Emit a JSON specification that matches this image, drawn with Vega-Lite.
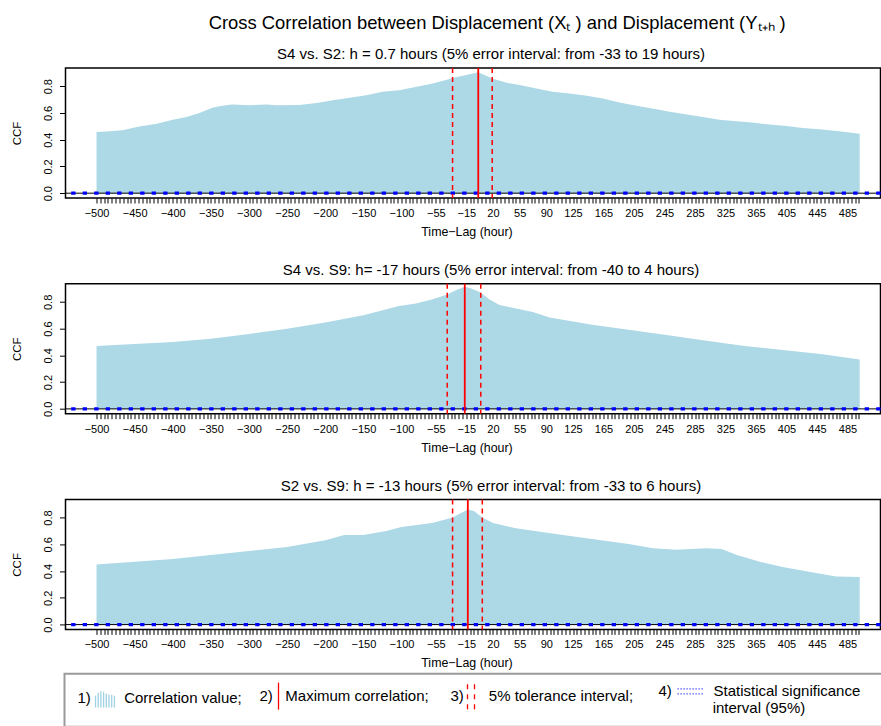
{
  "$schema": "https://vega.github.io/schema/vega-lite/v6.json",
  "autosize": {"type": "pad"},
  "padding": {"left": 10.5, "top": 13, "right": 0, "bottom": 0},
  "background": "white",
  "bounds": "flush",
  "spacing": 85.7,
  "title": {
    "text": "Cross Correlation between Displacement (Xₜ ) and Displacement (Yₜ₊ₕ )",
    "fontSize": 18.4,
    "anchor": "middle",
    "offset": -1,
    "dx": 45.5,
    "baseline": "alphabetic"
  },
  "datasets": {
    "ccf": [
      {"pair": "S4 vs. S2", "lag": -500, "ccf": 0.458},
      {"pair": "S4 vs. S2", "lag": -483, "ccf": 0.463},
      {"pair": "S4 vs. S2", "lag": -466, "ccf": 0.470},
      {"pair": "S4 vs. S2", "lag": -444, "ccf": 0.498},
      {"pair": "S4 vs. S2", "lag": -421, "ccf": 0.520},
      {"pair": "S4 vs. S2", "lag": -400, "ccf": 0.550},
      {"pair": "S4 vs. S2", "lag": -382, "ccf": 0.570},
      {"pair": "S4 vs. S2", "lag": -365, "ccf": 0.600},
      {"pair": "S4 vs. S2", "lag": -348, "ccf": 0.638},
      {"pair": "S4 vs. S2", "lag": -335, "ccf": 0.653},
      {"pair": "S4 vs. S2", "lag": -322, "ccf": 0.663},
      {"pair": "S4 vs. S2", "lag": -299, "ccf": 0.658},
      {"pair": "S4 vs. S2", "lag": -277, "ccf": 0.663},
      {"pair": "S4 vs. S2", "lag": -264, "ccf": 0.658},
      {"pair": "S4 vs. S2", "lag": -234, "ccf": 0.660},
      {"pair": "S4 vs. S2", "lag": -211, "ccf": 0.675},
      {"pair": "S4 vs. S2", "lag": -190, "ccf": 0.695},
      {"pair": "S4 vs. S2", "lag": -168, "ccf": 0.713},
      {"pair": "S4 vs. S2", "lag": -146, "ccf": 0.733},
      {"pair": "S4 vs. S2", "lag": -125, "ccf": 0.758},
      {"pair": "S4 vs. S2", "lag": -103, "ccf": 0.770},
      {"pair": "S4 vs. S2", "lag": -80, "ccf": 0.795},
      {"pair": "S4 vs. S2", "lag": -59, "ccf": 0.820},
      {"pair": "S4 vs. S2", "lag": -37, "ccf": 0.853},
      {"pair": "S4 vs. S2", "lag": -33, "ccf": 0.862},
      {"pair": "S4 vs. S2", "lag": -15, "ccf": 0.883},
      {"pair": "S4 vs. S2", "lag": 0.7, "ccf": 0.905},
      {"pair": "S4 vs. S2", "lag": 19, "ccf": 0.858},
      {"pair": "S4 vs. S2", "lag": 38, "ccf": 0.825},
      {"pair": "S4 vs. S2", "lag": 55, "ccf": 0.808},
      {"pair": "S4 vs. S2", "lag": 77, "ccf": 0.783},
      {"pair": "S4 vs. S2", "lag": 98, "ccf": 0.758},
      {"pair": "S4 vs. S2", "lag": 120, "ccf": 0.745},
      {"pair": "S4 vs. S2", "lag": 143, "ccf": 0.728},
      {"pair": "S4 vs. S2", "lag": 164, "ccf": 0.708},
      {"pair": "S4 vs. S2", "lag": 186, "ccf": 0.678},
      {"pair": "S4 vs. S2", "lag": 208, "ccf": 0.653},
      {"pair": "S4 vs. S2", "lag": 229, "ccf": 0.633},
      {"pair": "S4 vs. S2", "lag": 252, "ccf": 0.608},
      {"pair": "S4 vs. S2", "lag": 274, "ccf": 0.588},
      {"pair": "S4 vs. S2", "lag": 295, "ccf": 0.570},
      {"pair": "S4 vs. S2", "lag": 317, "ccf": 0.550},
      {"pair": "S4 vs. S2", "lag": 339, "ccf": 0.538},
      {"pair": "S4 vs. S2", "lag": 360, "ccf": 0.528},
      {"pair": "S4 vs. S2", "lag": 383, "ccf": 0.513},
      {"pair": "S4 vs. S2", "lag": 405, "ccf": 0.503},
      {"pair": "S4 vs. S2", "lag": 426, "ccf": 0.488},
      {"pair": "S4 vs. S2", "lag": 448, "ccf": 0.478},
      {"pair": "S4 vs. S2", "lag": 471, "ccf": 0.465},
      {"pair": "S4 vs. S2", "lag": 501, "ccf": 0.445},

      {"pair": "S4 vs. S9", "lag": -500, "ccf": 0.470},
      {"pair": "S4 vs. S9", "lag": -450, "ccf": 0.485},
      {"pair": "S4 vs. S9", "lag": -400, "ccf": 0.500},
      {"pair": "S4 vs. S9", "lag": -350, "ccf": 0.525},
      {"pair": "S4 vs. S9", "lag": -300, "ccf": 0.560},
      {"pair": "S4 vs. S9", "lag": -250, "ccf": 0.600},
      {"pair": "S4 vs. S9", "lag": -200, "ccf": 0.645},
      {"pair": "S4 vs. S9", "lag": -150, "ccf": 0.700},
      {"pair": "S4 vs. S9", "lag": -103, "ccf": 0.770},
      {"pair": "S4 vs. S9", "lag": -81, "ccf": 0.788},
      {"pair": "S4 vs. S9", "lag": -59, "ccf": 0.820},
      {"pair": "S4 vs. S9", "lag": -40, "ccf": 0.856},
      {"pair": "S4 vs. S9", "lag": -28, "ccf": 0.888},
      {"pair": "S4 vs. S9", "lag": -17, "ccf": 0.913},
      {"pair": "S4 vs. S9", "lag": -8.5, "ccf": 0.900},
      {"pair": "S4 vs. S9", "lag": 3.7, "ccf": 0.870},
      {"pair": "S4 vs. S9", "lag": 15.5, "ccf": 0.818},
      {"pair": "S4 vs. S9", "lag": 28.6, "ccf": 0.776},
      {"pair": "S4 vs. S9", "lag": 50.5, "ccf": 0.750},
      {"pair": "S4 vs. S9", "lag": 72.3, "ccf": 0.725},
      {"pair": "S4 vs. S9", "lag": 94.2, "ccf": 0.683},
      {"pair": "S4 vs. S9", "lag": 150, "ccf": 0.630},
      {"pair": "S4 vs. S9", "lag": 200, "ccf": 0.590},
      {"pair": "S4 vs. S9", "lag": 250, "ccf": 0.550},
      {"pair": "S4 vs. S9", "lag": 300, "ccf": 0.510},
      {"pair": "S4 vs. S9", "lag": 350, "ccf": 0.470},
      {"pair": "S4 vs. S9", "lag": 400, "ccf": 0.440},
      {"pair": "S4 vs. S9", "lag": 450, "ccf": 0.410},
      {"pair": "S4 vs. S9", "lag": 501, "ccf": 0.370},

      {"pair": "S2 vs. S9", "lag": -500, "ccf": 0.450},
      {"pair": "S2 vs. S9", "lag": -450, "ccf": 0.470},
      {"pair": "S2 vs. S9", "lag": -400, "ccf": 0.490},
      {"pair": "S2 vs. S9", "lag": -350, "ccf": 0.520},
      {"pair": "S2 vs. S9", "lag": -300, "ccf": 0.550},
      {"pair": "S2 vs. S9", "lag": -250, "ccf": 0.580},
      {"pair": "S2 vs. S9", "lag": -200, "ccf": 0.630},
      {"pair": "S2 vs. S9", "lag": -175, "ccf": 0.670},
      {"pair": "S2 vs. S9", "lag": -150, "ccf": 0.670},
      {"pair": "S2 vs. S9", "lag": -120, "ccf": 0.700},
      {"pair": "S2 vs. S9", "lag": -100, "ccf": 0.730},
      {"pair": "S2 vs. S9", "lag": -60, "ccf": 0.760},
      {"pair": "S2 vs. S9", "lag": -40, "ccf": 0.790},
      {"pair": "S2 vs. S9", "lag": -33, "ccf": 0.800},
      {"pair": "S2 vs. S9", "lag": -13, "ccf": 0.860},
      {"pair": "S2 vs. S9", "lag": -5, "ccf": 0.850},
      {"pair": "S2 vs. S9", "lag": 6, "ccf": 0.800},
      {"pair": "S2 vs. S9", "lag": 20, "ccf": 0.760},
      {"pair": "S2 vs. S9", "lag": 50, "ccf": 0.720},
      {"pair": "S2 vs. S9", "lag": 100, "ccf": 0.680},
      {"pair": "S2 vs. S9", "lag": 150, "ccf": 0.640},
      {"pair": "S2 vs. S9", "lag": 200, "ccf": 0.600},
      {"pair": "S2 vs. S9", "lag": 230, "ccf": 0.570},
      {"pair": "S2 vs. S9", "lag": 260, "ccf": 0.560},
      {"pair": "S2 vs. S9", "lag": 300, "ccf": 0.570},
      {"pair": "S2 vs. S9", "lag": 320, "ccf": 0.565},
      {"pair": "S2 vs. S9", "lag": 340, "ccf": 0.520},
      {"pair": "S2 vs. S9", "lag": 370, "ccf": 0.470},
      {"pair": "S2 vs. S9", "lag": 400, "ccf": 0.430},
      {"pair": "S2 vs. S9", "lag": 440, "ccf": 0.390},
      {"pair": "S2 vs. S9", "lag": 470, "ccf": 0.360},
      {"pair": "S2 vs. S9", "lag": 501, "ccf": 0.355}
    ],
    "lines": [
      {"pair": "S4 vs. S2", "kind": "max", "lag": 0.7},
      {"pair": "S4 vs. S2", "kind": "tol", "lag": -33},
      {"pair": "S4 vs. S2", "kind": "tol", "lag": 19},
      {"pair": "S4 vs. S9", "kind": "max", "lag": -17},
      {"pair": "S4 vs. S9", "kind": "tol", "lag": -40},
      {"pair": "S4 vs. S9", "kind": "tol", "lag": 4},
      {"pair": "S2 vs. S9", "kind": "max", "lag": -13},
      {"pair": "S2 vs. S9", "kind": "tol", "lag": -33},
      {"pair": "S2 vs. S9", "kind": "tol", "lag": 6}
    ],
    "zero": [{"ccf": 0}],
    "sig": [{"ccf": 0.005}, {"ccf": -0.005}],
    "legend": [
      {"item": "Correlation value"},
      {"item": "Maximum correlation"},
      {"item": "5% tolerance interval"},
      {"item": "Statistical significance interval (95%)"}
    ]
  },
  "config": {
    "font": "Liberation Sans",
    "view": {"stroke": "black", "strokeWidth": 1.5},
    "axis": {
      "grid": false, "domain": false, "ticks": true,
      "tickColor": "black", "tickWidth": 1,
      "labelColor": "black", "titleColor": "black",
      "titleFontWeight": "normal",
      "labelFont": "Liberation Sans", "titleFont": "Liberation Sans"
    },
    "axisX": {
      "tickSize": 5, "labelFontSize": 11, "labelPadding": 4.5,
      "titleFontSize": 12.4, "titlePadding": 7,
      "labelOverlap": false, "labelFlush": false, "labelBound": false,
      "titleX": 401
    },
    "axisY": {
      "tickSize": 6, "labelFontSize": 11, "labelAngle": -90, "labelOverlap": false,
      "labelBaseline": "alphabetic", "labelAlign": "center", "labelPadding": 7.8,
      "titleFontSize": 11.5, "titlePadding": 20
    },
    "title": {"fontWeight": "normal", "color": "black", "fontSize": 15, "baseline": "alphabetic", "offset": 7, "dx": 18},
    "legend": {"strokeWidth": 2}
  },
  "vconcat": [
    {
      "title": {"text": "S4 vs. S2: h = 0.7 hours (5% error interval: from -33 to 19 hours)", "offset": 5},
      "width": 815, "height": 130,
      "layer": [
        {
          "data": {"name": "ccf"},
          "transform": [{"filter": {"field": "pair", "equal": "S4 vs. S2"}}],
          "mark": {"type": "area", "color": "#ADD8E6"},
          "encoding": {
            "x": {"field": "lag", "type": "quantitative", "title": "Time−Lag (hour)",
              "scale": {"domain": [-540.7, 528.3], "nice": false, "zero": false},
              "axis": {
                "labelOverlap": false, "tickCount": 1000,
                "values": [-500,-495,-490,-485,-480,-475,-470,-465,-460,-455,-450,-445,-440,-435,-430,-425,-420,-415,-410,-405,-400,-395,-390,-385,-380,-375,-370,-365,-360,-355,-350,-345,-340,-335,-330,-325,-320,-315,-310,-305,-300,-295,-290,-285,-280,-275,-270,-265,-260,-255,-250,-245,-240,-235,-230,-225,-220,-215,-210,-205,-200,-195,-190,-185,-180,-175,-170,-165,-160,-155,-150,-145,-140,-135,-130,-125,-120,-115,-110,-105,-100,-95,-90,-85,-80,-75,-70,-65,-60,-55,-50,-45,-40,-35,-30,-25,-20,-15,-10,-5,0,5,10,15,20,25,30,35,40,45,50,55,60,65,70,75,80,85,90,95,100,105,110,115,120,125,130,135,140,145,150,155,160,165,170,175,180,185,190,195,200,205,210,215,220,225,230,235,240,245,250,255,260,265,270,275,280,285,290,295,300,305,310,315,320,325,330,335,340,345,350,355,360,365,370,375,380,385,390,395,400,405,410,415,420,425,430,435,440,445,450,455,460,465,470,475,480,485,490,495,500],
                "labelExpr": "(datum.value <= -100 && datum.value % 50 == 0) || datum.value == -55 || datum.value == -15 || datum.value == 20 || datum.value == 55 || datum.value == 90 || (datum.value >= 125 && (datum.value - 125) % 40 == 0) ? datum.label : ''"
              }},
            "y": {"field": "ccf", "type": "quantitative", "title": "CCF",
              "scale": {"domain": [-0.036, 0.936], "nice": false, "zero": false},
              "axis": {"values": [0, 0.2, 0.4, 0.6, 0.8], "tickCount": 10, "format": ".1f", "labelOverlap": false}}
          }
        },
        {
          "data": {"name": "zero"},
          "mark": {"type": "rule", "color": "black", "strokeWidth": 1},
          "encoding": {"y": {"field": "ccf", "type": "quantitative", "title": "CCF", "scale": {"domain": [-0.036, 0.936], "nice": false, "zero": false}}}
        },
        {
          "data": {"name": "sig"},
          "mark": {"type": "rule", "color": "#0000FF", "strokeWidth": 2, "strokeDash": [4.3, 7.2]},
          "encoding": {"y": {"field": "ccf", "type": "quantitative", "title": "CCF", "scale": {"domain": [-0.036, 0.936], "nice": false, "zero": false}}}
        },
        {
          "data": {"name": "lines"},
          "transform": [{"filter": "datum.pair == 'S4 vs. S2' && datum.kind == 'tol'"}],
          "mark": {"type": "rule", "color": "#FF0000", "strokeWidth": 1.5, "strokeDash": [5, 4]},
          "encoding": {"x": {"field": "lag", "type": "quantitative", "title": "Time−Lag (hour)", "scale": {"domain": [-540.7, 528.3], "nice": false, "zero": false}}}
        },
        {
          "data": {"name": "lines"},
          "transform": [{"filter": "datum.pair == 'S4 vs. S2' && datum.kind == 'max'"}],
          "mark": {"type": "rule", "color": "#FF0000", "strokeWidth": 1.8},
          "encoding": {"x": {"field": "lag", "type": "quantitative", "title": "Time−Lag (hour)", "scale": {"domain": [-540.7, 528.3], "nice": false, "zero": false}}}
        }
      ]
    },
    {
      "title": {"text": "S4 vs. S9: h= -17 hours (5% error interval: from -40 to 4 hours)", "offset": 5},
      "width": 815, "height": 130,
      "layer": [
        {
          "data": {"name": "ccf"},
          "transform": [{"filter": {"field": "pair", "equal": "S4 vs. S9"}}],
          "mark": {"type": "area", "color": "#ADD8E6"},
          "encoding": {
            "x": {"field": "lag", "type": "quantitative", "title": "Time−Lag (hour)",
              "scale": {"domain": [-540.7, 528.3], "nice": false, "zero": false},
              "axis": {
                "labelOverlap": false, "tickCount": 1000,
                "values": [-500,-495,-490,-485,-480,-475,-470,-465,-460,-455,-450,-445,-440,-435,-430,-425,-420,-415,-410,-405,-400,-395,-390,-385,-380,-375,-370,-365,-360,-355,-350,-345,-340,-335,-330,-325,-320,-315,-310,-305,-300,-295,-290,-285,-280,-275,-270,-265,-260,-255,-250,-245,-240,-235,-230,-225,-220,-215,-210,-205,-200,-195,-190,-185,-180,-175,-170,-165,-160,-155,-150,-145,-140,-135,-130,-125,-120,-115,-110,-105,-100,-95,-90,-85,-80,-75,-70,-65,-60,-55,-50,-45,-40,-35,-30,-25,-20,-15,-10,-5,0,5,10,15,20,25,30,35,40,45,50,55,60,65,70,75,80,85,90,95,100,105,110,115,120,125,130,135,140,145,150,155,160,165,170,175,180,185,190,195,200,205,210,215,220,225,230,235,240,245,250,255,260,265,270,275,280,285,290,295,300,305,310,315,320,325,330,335,340,345,350,355,360,365,370,375,380,385,390,395,400,405,410,415,420,425,430,435,440,445,450,455,460,465,470,475,480,485,490,495,500],
                "labelExpr": "(datum.value <= -100 && datum.value % 50 == 0) || datum.value == -55 || datum.value == -15 || datum.value == 20 || datum.value == 55 || datum.value == 90 || (datum.value >= 125 && (datum.value - 125) % 40 == 0) ? datum.label : ''"
              }},
            "y": {"field": "ccf", "type": "quantitative", "title": "CCF",
              "scale": {"domain": [-0.036, 0.936], "nice": false, "zero": false},
              "axis": {"values": [0, 0.2, 0.4, 0.6, 0.8], "tickCount": 10, "format": ".1f", "labelOverlap": false}}
          }
        },
        {
          "data": {"name": "zero"},
          "mark": {"type": "rule", "color": "black", "strokeWidth": 1},
          "encoding": {"y": {"field": "ccf", "type": "quantitative", "title": "CCF", "scale": {"domain": [-0.036, 0.936], "nice": false, "zero": false}}}
        },
        {
          "data": {"name": "sig"},
          "mark": {"type": "rule", "color": "#0000FF", "strokeWidth": 2, "strokeDash": [4.3, 7.2]},
          "encoding": {"y": {"field": "ccf", "type": "quantitative", "title": "CCF", "scale": {"domain": [-0.036, 0.936], "nice": false, "zero": false}}}
        },
        {
          "data": {"name": "lines"},
          "transform": [{"filter": "datum.pair == 'S4 vs. S9' && datum.kind == 'tol'"}],
          "mark": {"type": "rule", "color": "#FF0000", "strokeWidth": 1.5, "strokeDash": [5, 4]},
          "encoding": {"x": {"field": "lag", "type": "quantitative", "title": "Time−Lag (hour)", "scale": {"domain": [-540.7, 528.3], "nice": false, "zero": false}}}
        },
        {
          "data": {"name": "lines"},
          "transform": [{"filter": "datum.pair == 'S4 vs. S9' && datum.kind == 'max'"}],
          "mark": {"type": "rule", "color": "#FF0000", "strokeWidth": 1.8},
          "encoding": {"x": {"field": "lag", "type": "quantitative", "title": "Time−Lag (hour)", "scale": {"domain": [-540.7, 528.3], "nice": false, "zero": false}}}
        }
      ]
    },
    {
      "title": {"text": "S2 vs. S9: h = -13 hours (5% error interval: from -33 to 6 hours)", "offset": 5},
      "width": 815, "height": 130,
      "layer": [
        {
          "data": {"name": "ccf"},
          "transform": [{"filter": {"field": "pair", "equal": "S2 vs. S9"}}],
          "mark": {"type": "area", "color": "#ADD8E6"},
          "encoding": {
            "x": {"field": "lag", "type": "quantitative", "title": "Time−Lag (hour)",
              "scale": {"domain": [-540.7, 528.3], "nice": false, "zero": false},
              "axis": {
                "labelOverlap": false, "tickCount": 1000,
                "values": [-500,-495,-490,-485,-480,-475,-470,-465,-460,-455,-450,-445,-440,-435,-430,-425,-420,-415,-410,-405,-400,-395,-390,-385,-380,-375,-370,-365,-360,-355,-350,-345,-340,-335,-330,-325,-320,-315,-310,-305,-300,-295,-290,-285,-280,-275,-270,-265,-260,-255,-250,-245,-240,-235,-230,-225,-220,-215,-210,-205,-200,-195,-190,-185,-180,-175,-170,-165,-160,-155,-150,-145,-140,-135,-130,-125,-120,-115,-110,-105,-100,-95,-90,-85,-80,-75,-70,-65,-60,-55,-50,-45,-40,-35,-30,-25,-20,-15,-10,-5,0,5,10,15,20,25,30,35,40,45,50,55,60,65,70,75,80,85,90,95,100,105,110,115,120,125,130,135,140,145,150,155,160,165,170,175,180,185,190,195,200,205,210,215,220,225,230,235,240,245,250,255,260,265,270,275,280,285,290,295,300,305,310,315,320,325,330,335,340,345,350,355,360,365,370,375,380,385,390,395,400,405,410,415,420,425,430,435,440,445,450,455,460,465,470,475,480,485,490,495,500],
                "labelExpr": "(datum.value <= -100 && datum.value % 50 == 0) || datum.value == -55 || datum.value == -15 || datum.value == 20 || datum.value == 55 || datum.value == 90 || (datum.value >= 125 && (datum.value - 125) % 40 == 0) ? datum.label : ''"
              }},
            "y": {"field": "ccf", "type": "quantitative", "title": "CCF",
              "scale": {"domain": [-0.036, 0.936], "nice": false, "zero": false},
              "axis": {"values": [0, 0.2, 0.4, 0.6, 0.8], "tickCount": 10, "format": ".1f", "labelOverlap": false}}
          }
        },
        {
          "data": {"name": "zero"},
          "mark": {"type": "rule", "color": "black", "strokeWidth": 1},
          "encoding": {"y": {"field": "ccf", "type": "quantitative", "title": "CCF", "scale": {"domain": [-0.036, 0.936], "nice": false, "zero": false}}}
        },
        {
          "data": {"name": "sig"},
          "mark": {"type": "rule", "color": "#0000FF", "strokeWidth": 2, "strokeDash": [4.3, 7.2]},
          "encoding": {"y": {"field": "ccf", "type": "quantitative", "title": "CCF", "scale": {"domain": [-0.036, 0.936], "nice": false, "zero": false}}}
        },
        {
          "data": {"name": "lines"},
          "transform": [{"filter": "datum.pair == 'S2 vs. S9' && datum.kind == 'tol'"}],
          "mark": {"type": "rule", "color": "#FF0000", "strokeWidth": 1.5, "strokeDash": [5, 4]},
          "encoding": {"x": {"field": "lag", "type": "quantitative", "title": "Time−Lag (hour)", "scale": {"domain": [-540.7, 528.3], "nice": false, "zero": false}}}
        },
        {
          "data": {"name": "lines"},
          "transform": [{"filter": "datum.pair == 'S2 vs. S9' && datum.kind == 'max'"}],
          "mark": {"type": "rule", "color": "#FF0000", "strokeWidth": 1.8},
          "encoding": {"x": {"field": "lag", "type": "quantitative", "title": "Time−Lag (hour)", "scale": {"domain": [-540.7, 528.3], "nice": false, "zero": false}}}
        },
        {
          "data": {"name": "legend"},
          "mark": {"type": "point", "filled": false, "opacity": 0, "size": 4},
          "encoding": {
            "color": {
              "field": "item", "type": "nominal",
              "scale": {
                "domain": ["Correlation value", "Maximum correlation", "5% tolerance interval", "Statistical significance interval (95%)"],
                "range": ["#9FD2E3", "#FF0000", "#FF0000", "#3333FF"]
              },
              "legend": {
                "title": null, "orient": "none", "legendX": -1, "legendY": 605.7,
                "direction": "horizontal", "columns": 4, "columnPadding": 14,
                "padding": 10, "strokeColor": "#9a9a9a",
                "labelFontSize": 15, "labelColor": "black", "labelFont": "Liberation Sans", "labelLimit": 1000,
                "labelOffset": -35.5, "symbolOffset": 23.5, "symbolSize": 4, "symbolStrokeWidth": 1.3, "symbolOpacity": 1,
                "labelExpr": "datum.label == 'Correlation value' ? '1)\u00a0\u00a0\u00a0\u00a0\u00a0\u00a0\u00a0\u00a0Correlation value;' : datum.label == 'Maximum correlation' ? '2)\u00a0\u00a0\u00a0Maximum correlation;\u00a0\u200b' : datum.label == '5% tolerance interval' ? '3)\u00a0\u00a0\u00a0\u00a0\u00a0\u00a05% tolerance interval;\u00a0\u00a0\u200b' : ['4)\u00a0\u00a0\u00a0\u00a0\u00a0\u00a0\u00a0\u00a0\u00a0\u00a0Statistical significance\u00a0\u00a0\u00a0\u00a0\u00a0\u200b', '\u200b\u00a0\u00a0\u00a0\u00a0\u00a0\u00a0\u00a0\u00a0\u00a0\u00a0\u00a0\u00a0\u00a0interval (95%)']"
              }
            },
            "shape": {
              "field": "item", "type": "nominal",
              "scale": {
                "domain": ["Correlation value", "Maximum correlation", "5% tolerance interval", "Statistical significance interval (95%)"],
                "range": [
                  "M-10,9.7V-2M-7.3,9.7V-5M-4.6,9.7V-6.5M-1.9,9.7V-6M0.8,9.7V-4M3.5,9.7V-3M6.2,9.7V-3M8.9,9.7V-2",
                  "M-9,-13V14",
                  "M-11,-12V-7M-11,-2V3M-11,8V13M-4,-12V-7M-4,-2V3M-4,8V13",
                  "M-9,-2.5h1.2M-6,-2.5h1.2M-3,-2.5h1.2M0,-2.5h1.2M3,-2.5h1.2M6,-2.5h1.2M9,-2.5h1.2M12,-2.5h1.2M15,-2.5h1.2M-9,2.5h1.2M-6,2.5h1.2M-3,2.5h1.2M0,2.5h1.2M3,2.5h1.2M6,2.5h1.2M9,2.5h1.2M12,2.5h1.2M15,2.5h1.2"
                ]
              }
            }
          }
        }
      ]
    }
  ]
}
